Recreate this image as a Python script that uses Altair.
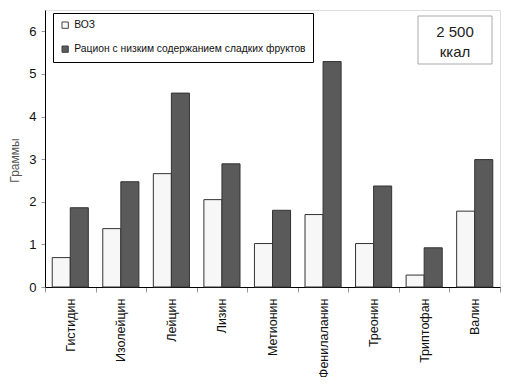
import altair as alt
import pandas as pd

categories = ["Гистидин", "Изолейцин", "Лейцин", "Лизин", "Метионин",
              "Фенилаланин", "Треонин", "Триптофан", "Валин"]
who = [0.69, 1.37, 2.66, 2.05, 1.02, 1.70, 1.02, 0.28, 1.78]
low_sweet = [1.86, 2.47, 4.55, 2.89, 1.80, 5.29, 2.37, 0.92, 2.99]
series = ["ВОЗ", "Рацион с низким содержанием сладких фруктов"]
y_ticks = [0, 1, 2, 3, 4, 5, 6]

rows = []
for c, a, b in zip(categories, who, low_sweet):
    rows.append({"cat": c, "series": series[0], "value": a})
    rows.append({"cat": c, "series": series[1], "value": b})
df = pd.DataFrame(rows)

sans = "Liberation Sans, Arial, sans-serif"

bars = alt.Chart(df).mark_bar(stroke="#333", strokeWidth=1).encode(
    x=alt.X("cat:N", sort=categories, title=None,
            scale=alt.Scale(paddingInner=0, paddingOuter=0),
            axis=alt.Axis(tickBand="extent", labelAngle=270, labelAlign="right",
                          labelBaseline="middle", labelFont=sans, labelFontSize=12.5,
                          labelColor="#111", labelPadding=6, tickSize=5,
                          tickColor="#999", domainColor="#000", grid=False)),
    xOffset=alt.XOffset("series:N", sort=series,
                        scale=alt.Scale(paddingInner=0, paddingOuter=0.4)),
    y=alt.Y("value:Q", title="Граммы",
            scale=alt.Scale(domain=[0, 6.5], nice=False),
            axis=alt.Axis(values=y_ticks, format="d", grid=False, tickSize=4,
                          tickColor="#999", domainColor="#000", labelFontSize=13,
                          labelFont=sans, labelColor="#111", labelPadding=5,
                          titleFont=sans, titleFontSize=12, titleFontWeight="normal",
                          titleColor="#555", titleX=-24, titleY=150)),
    color=alt.Color("series:N", sort=series,
                    scale=alt.Scale(domain=series, range=["#f7f7f7", "#5a5a5a"]),
                    legend=alt.Legend(title=None, orient="none", legendX=8, legendY=3,
                                      fillColor="white", strokeColor="#000",
                                      padding=7, symbolType="square", symbolSize=40,
                                      symbolStrokeColor="#444", symbolStrokeWidth=1,
                                      labelFont=sans, labelFontSize=10.3, labelLimit=0,
                                      labelColor="#111", rowPadding=12, labelOffset=4)),
)

box = alt.Chart(pd.DataFrame({"k": [1]})).mark_rect(
    fill="white", stroke="#aaa", strokeWidth=1
).encode(x=alt.value(373), x2=alt.value(447), y=alt.value(6), y2=alt.value(54))

txt1 = alt.Chart(pd.DataFrame({"t": ["2 500"]})).mark_text(
    fontSize=15, font=sans, fontWeight="normal", color="#222",
    align="center", baseline="middle"
).encode(text="t:N", x=alt.value(410), y=alt.value(22))

txt2 = alt.Chart(pd.DataFrame({"t": ["ккал"]})).mark_text(
    fontSize=15, font=sans, fontWeight="normal", color="#222",
    align="center", baseline="middle"
).encode(text="t:N", x=alt.value(410), y=alt.value(42))

chart = alt.layer(bars, box, txt1, txt2).properties(
    width=455, height=277,
    autosize=alt.AutoSizeParams(type="none"),
    padding={"left": 37, "top": 2, "right": 10, "bottom": 90},
).configure_view(stroke="#999", strokeWidth=1).configure(background="white")

chart.save("out.html", embed_options={"renderer": "svg", "actions": False})
